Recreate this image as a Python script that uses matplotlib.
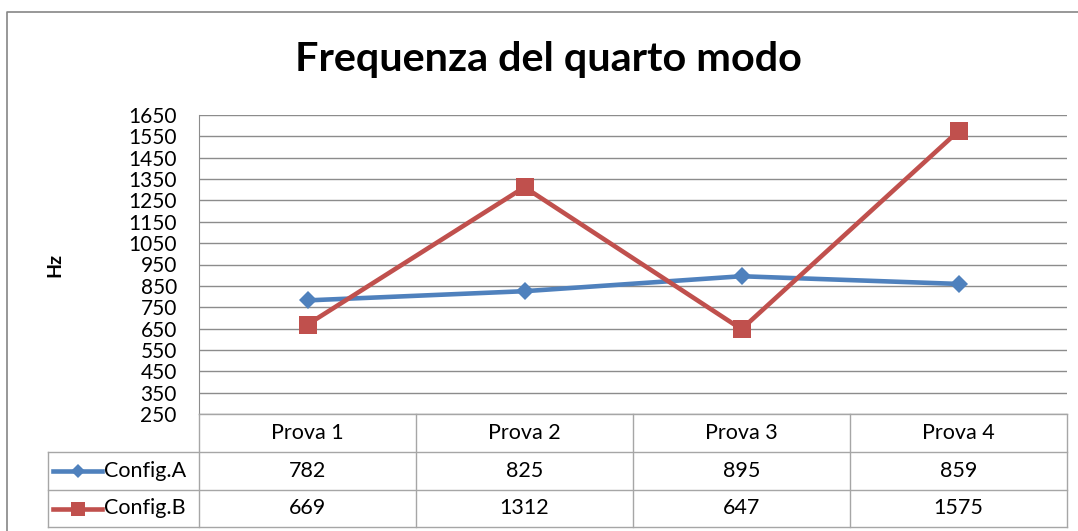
import matplotlib.pyplot as plt
from matplotlib.lines import Line2D
from matplotlib.transforms import blended_transform_factory

plt.rcParams['font.family'] = ['Lato', 'DejaVu Sans']

prove = ['Prova 1', 'Prova 2', 'Prova 3', 'Prova 4']
config_a = [782, 825, 895, 859]
config_b = [669, 1312, 647, 1575]
series = [('Config.A', config_a, '#4F81BD', 'D', 9.0),
          ('Config.B', config_b, '#C0504D', 's', 13.5)]
yticks = list(range(250, 1651, 100))

W, H = 1078, 531
grid_col = '#8C8C8C'
table_col = '#A6A6A6'
cell_fs = 15.5


def fx(px):
    return px / W


def fy(py):
    return 1 - py / H


fig = plt.figure(figsize=(W / 100, H / 100), dpi=100)

# outer chart border (cut off at the right and bottom edges)
fig.add_artist(Line2D([fx(7), fx(7), fx(W + 5)], [fy(H + 5), fy(12), fy(12)],
                      transform=fig.transFigure, color='#868686', lw=1.2))

fig.text(fx(548), fy(60), 'Frequenza del quarto modo', ha='center', va='center',
         fontsize=29.8, fontweight='bold')

ax = fig.add_axes([fx(199), fy(414), fx(1067) - fx(199), fy(115) - fy(414)])
x = range(len(prove))
for name, vals, col, mk, ms in series:
    ax.plot(x, vals, color=col, lw=3.3, marker=mk, markersize=ms,
            markeredgewidth=0, zorder=3)

ax.set_xlim(-0.5, len(prove) - 0.5)
ax.set_ylim(250, 1650)
ax.set_yticks(yticks)
ax.set_xticks([])
ax.yaxis.grid(True, color=grid_col, lw=1)
ax.set_axisbelow(True)
for s in ['top', 'right', 'bottom']:
    ax.spines[s].set_visible(False)
ax.spines['left'].set_color(grid_col)
ax.tick_params(axis='y', length=0, pad=16, labelsize=15)
fig.text(fx(55), fy(265), 'Hz', rotation=90, ha='center', va='center',
         fontsize=14, fontweight='bold')

# data table under the plot: x follows the category axis, y in figure pixels
tr = blended_transform_factory(ax.transData, fig.transFigure)
row_y = [414, 452, 490, 527]
x0, x1 = -0.5, len(prove) - 0.5

def hline(xa, xb, py):
    fig.add_artist(Line2D([xa, xb], [fy(py), fy(py)], transform=tr,
                          color=table_col, lw=1))

def vline(xv, pa, pb):
    fig.add_artist(Line2D([xv, xv], [fy(pa), fy(pb)], transform=tr,
                          color=table_col, lw=1))

hline(x0, x1, row_y[0])
xleft = ax.transData.inverted().transform((fig.transFigure.transform((fx(48), 0))[0], 0))[0]
for py in row_y[1:]:
    hline(xleft, x1, py)
vline(xleft, row_y[1], row_y[3])
vline(x0, row_y[0], row_y[3])
for i in range(len(prove)):
    vline(i + 0.5, row_y[0], row_y[3])

for i, p in enumerate(prove):
    fig.text(i, fy(433), p, transform=tr, ha='center', va='center', fontsize=cell_fs)

for r, (name, vals, col, mk, ms) in enumerate(series):
    cy = (row_y[r + 1] + row_y[r + 2]) / 2
    for i, v in enumerate(vals):
        fig.text(i, fy(cy), str(v), transform=tr, ha='center', va='center',
                 fontsize=cell_fs)
    fig.add_artist(Line2D([fx(53), fx(102)], [fy(cy), fy(cy)],
                          transform=fig.transFigure, color=col, lw=3.3))
    fig.add_artist(Line2D([fx(78)], [fy(cy)], transform=fig.transFigure,
                          color=col, marker=mk, markersize=ms * 0.75,
                          markeredgewidth=0))
    fig.text(fx(104), fy(cy), name, ha='left', va='center', fontsize=cell_fs)

fig.savefig('out.png', dpi=100)
